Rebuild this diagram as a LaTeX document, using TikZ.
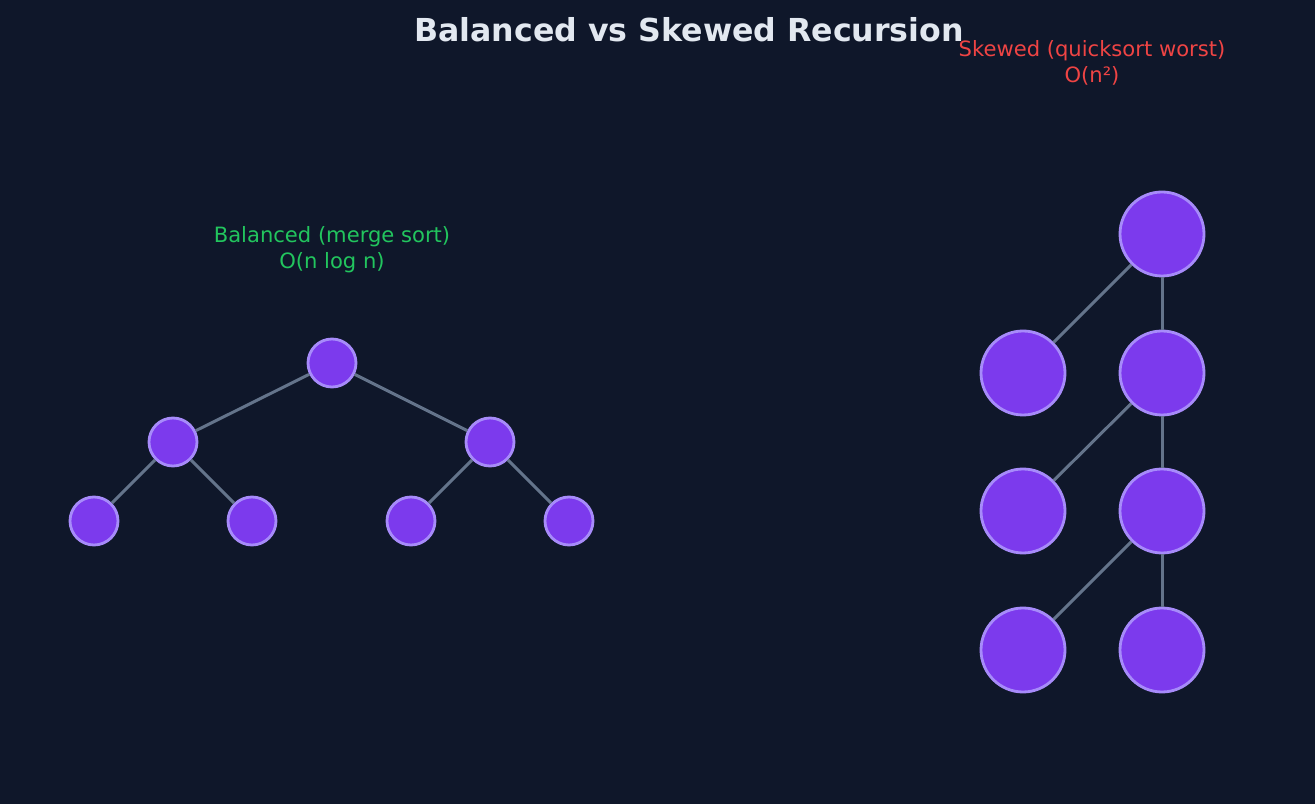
\documentclass[tikz,border=0pt]{standalone}
\usepackage{fontspec}
\setmainfont{DejaVu Sans}
\definecolor{bg}{HTML}{0F172A}
\definecolor{nodefill}{HTML}{7C3AED}
\definecolor{nodeline}{HTML}{A78BFA}
\definecolor{edgecol}{HTML}{64748B}
\definecolor{titlecol}{HTML}{E2E8F0}
\definecolor{goodcol}{HTML}{22C55E}
\definecolor{badcol}{HTML}{EF4444}
\tikzset{
  small/.style={circle, minimum size=0.96cm, inner sep=0pt, fill=nodefill, draw=nodeline, line width=1.6pt},
  big/.style={circle, minimum size=1.68cm, inner sep=0pt, fill=nodefill, draw=nodeline, line width=1.6pt},
  link/.style={draw=edgecol, line width=1.7pt}
}
\begin{document}
\begin{tikzpicture}

\fill [bg] (0,0) rectangle (26.3,16.08);
\useasboundingbox (0,0) rectangle (26.3,16.08);

\node [text=titlecol, font=\fontsize{18}{22}\selectfont\bfseries] (t0) at (13.78,15.48) {Balanced vs Skewed Recursion};

\node [text=goodcol, font=\fontsize{12}{15}\selectfont, align=center] (t1) at (6.64,11.09) {Balanced (merge sort)\\O(n log n)};
\node [text=badcol, font=\fontsize{12}{15}\selectfont, align=center] (t2) at (21.84,14.82) {Skewed (quicksort worst)\\O(n²)};

\node [small] (v1) at (6.64,8.82) {};
\node [small] (v2) at (3.46,7.24) {};
\node [small] (v3) at (9.80,7.24) {};
\node [small] (v4) at (1.88,5.66) {};
\node [small] (v5) at (5.04,5.66) {};
\node [small] (v6) at (8.22,5.66) {};
\node [small] (v7) at (11.38,5.66) {};
\draw [link] (v1) -- (v2);
\draw [link] (v1) -- (v3);
\draw [link] (v2) -- (v4);
\draw [link] (v2) -- (v5);
\draw [link] (v3) -- (v6);
\draw [link] (v3) -- (v7);

\node [big] (v8) at (23.24,11.40) {};
\node [big] (v9) at (20.46,8.62) {};
\node [big] (v10) at (23.24,8.62) {};
\node [big] (v11) at (20.46,5.86) {};
\node [big] (v12) at (23.24,5.86) {};
\node [big] (v13) at (20.46,3.08) {};
\node [big] (v14) at (23.24,3.08) {};
\draw [link] (v8) -- (v9);
\draw [link] (v8) -- (v10);
\draw [link] (v10) -- (v11);
\draw [link] (v10) -- (v12);
\draw [link] (v12) -- (v13);
\draw [link] (v12) -- (v14);

\end{tikzpicture}
\end{document}
